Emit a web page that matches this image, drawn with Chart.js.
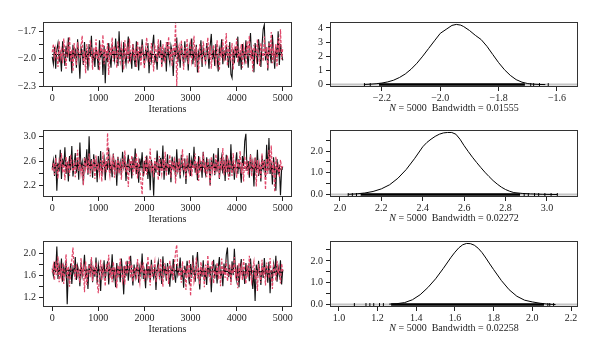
<!DOCTYPE html>
<html>
<head>
<meta charset="utf-8">
<script src="https://cdn.jsdelivr.net/npm/chart.js@4.4.0/dist/chart.umd.min.js"></script>
<style>
  body { margin: 0; background: #fff; }
  #wrap { position: relative; width: 600px; height: 352px; }
  canvas { position: absolute; }
</style>
</head>
<body>
<div id="wrap">
  <canvas id="trace1" width="300" height="117" style="left:0;top:0"></canvas>
  <canvas id="dens1" width="300" height="117" style="left:300px;top:0"></canvas>
  <canvas id="trace2" width="300" height="110" style="left:0;top:117px"></canvas>
  <canvas id="dens2" width="300" height="110" style="left:300px;top:117px"></canvas>
  <canvas id="trace3" width="300" height="110" style="left:0;top:227px"></canvas>
  <canvas id="dens3" width="300" height="110" style="left:300px;top:227px"></canvas>
</div>
<script>
// iterations axis
const iterTicks = [0, 1000, 2000, 3000, 4000, 5000];
const sampleN = 5000;
const bandwidths = ['0.01555', '0.02272', '0.02258'];

// parameter 1 chains (thinned, every 25 iterations)
const p1Chain1 = [
  -1.98,-2.06,-1.87,-2.11,-1.90,-1.83,-2.04,-1.95,-2.14,-1.81,
  -1.96,-2.08,-1.86,-1.99,-1.77,-2.03,-1.92,-2.16,-1.85,-2.00,
  -1.89,-2.10,-1.79,-1.97,-2.22,-1.88,-1.94,-2.07,-1.82,-2.01,
  -1.91,-2.13,-1.84,-1.98,-1.75,-2.05,-1.93,-2.09,-1.87,-1.96,
  -2.12,-1.80,-1.99,-1.89,-2.18,-1.86,-2.27,-1.92,-2.04,-1.83,
  -1.97,-2.10,-1.85,-1.94,-2.02,-1.78,-1.95,-2.08,-1.70,-2.00,
  -1.88,-2.15,-1.82,-1.97,-2.06,-1.90,-1.76,-2.03,-1.93,-2.11,
  -1.84,-1.99,-2.09,-1.81,-1.96,-2.13,-1.87,-2.01,-1.79,-1.94,
  -2.07,-1.90,-1.98,-1.83,-2.16,-1.92,-2.02,-1.86,-1.74,-2.05,
  -1.95,-2.12,-1.85,-1.99,-1.80,-2.08,-1.91,-2.03,-1.88,-2.14,
  -1.82,-1.97,-2.05,-1.86,-1.93,-2.19,-1.89,-1.98,-1.77,-2.04,
  -1.90,-2.10,-1.84,-1.96,-2.07,-1.81,-2.00,-1.92,-2.13,-1.87,
  -1.95,-1.78,-2.06,-1.91,-2.02,-1.85,-2.15,-1.93,-1.99,-1.80,
  -2.09,-1.88,-1.97,-2.04,-1.83,-1.94,-2.11,-1.86,-1.73,-2.01,
  -1.92,-2.08,-1.84,-1.98,-2.14,-1.89,-1.95,-1.79,-2.06,-1.91,
  -2.02,-1.85,-1.97,-2.10,-1.82,-2.17,-2.21,-1.90,-2.05,-1.87,
  -1.99,-1.76,-2.08,-1.93,-2.12,-1.84,-1.96,-2.03,-1.80,-1.94,
  -2.10,-1.86,-1.72,-2.00,-1.90,-2.15,-1.83,-1.97,-2.06,-1.79,
  -1.92,-2.09,-1.85,-1.68,-1.63,-2.02,-1.88,-2.13,-1.81,-1.96,
  -2.05,-1.74,-1.93,-2.11,-1.87,-1.99,-1.70,-2.07,-1.84,-1.95,
  -2.02];
const p1Chain2 = [
  -1.93,-1.84,-2.02,-1.89,-1.97,-2.09,-1.81,-1.99,-1.91,-2.05,
  -1.78,-1.95,-2.11,-1.86,-1.94,-1.76,-2.03,-1.90,-2.14,-1.83,
  -1.98,-2.07,-1.82,-1.93,-2.00,-1.87,-1.75,-2.06,-1.92,-2.16,
  -1.84,-1.96,-2.04,-1.80,-1.91,-2.12,-1.88,-1.99,-1.79,-2.01,
  -1.90,-2.13,-1.85,-1.95,-1.74,-2.06,-1.89,-2.00,-1.83,-2.18,
  -1.87,-1.97,-1.77,-2.03,-1.86,-1.92,-2.10,-1.81,-1.98,-2.04,
  -1.85,-1.93,-2.12,-1.80,-1.96,-1.88,-2.06,-1.78,-2.01,-1.94,
  -1.84,-2.02,-1.89,-2.09,-1.81,-1.97,-1.91,-2.08,-1.85,-1.99,
  -2.11,-1.88,-1.77,-2.00,-1.94,-2.07,-1.83,-1.95,-2.14,-1.86,
  -1.90,-2.04,-1.79,-1.98,-1.87,-2.10,-1.84,-1.96,-2.05,-1.82,
  -1.93,-1.76,-2.02,-1.89,-2.08,-1.85,-1.97,-1.60,-2.30,-1.92,
  -1.86,-2.01,-1.80,-1.95,-2.12,-1.88,-1.99,-1.78,-2.06,-1.91,
  -1.83,-2.03,-1.94,-1.75,-2.09,-1.87,-1.98,-2.15,-1.84,-1.96,
  -2.02,-1.81,-1.93,-2.07,-1.89,-1.77,-2.00,-1.86,-2.11,-1.92,
  -1.85,-1.97,-2.05,-1.80,-1.94,-2.13,-1.88,-1.99,-1.79,-2.03,
  -1.90,-1.72,-2.08,-1.86,-1.96,-2.01,-1.83,-2.12,-1.89,-1.95,
  -1.78,-2.04,-1.91,-1.99,-1.84,-2.10,-1.87,-1.94,-2.06,-1.81,
  -1.97,-1.75,-2.02,-1.88,-2.14,-1.85,-1.93,-2.00,-1.79,-1.96,
  -2.08,-1.83,-1.90,-2.03,-1.76,-1.98,-1.87,-2.11,-1.82,-1.95,
  -1.71,-2.05,-1.89,-1.99,-1.84,-2.09,-1.77,-1.93,-1.68,-2.01,
  -1.88];
const p1SmoothIter = [0, 5000];
const p1Smooth = [-1.955, -1.955];

// parameter 2 chains
const p2Chain1 = [
  2.48,2.61,2.36,2.70,2.12,2.57,2.43,2.78,2.31,2.64,
  2.50,2.82,2.39,2.59,2.27,2.68,2.45,2.84,2.35,2.55,
  2.73,2.41,2.62,2.30,2.90,2.47,2.58,2.22,2.66,2.52,
  2.79,2.38,3.00,2.44,2.63,2.33,2.71,2.49,2.57,2.26,
  2.68,2.42,2.76,2.36,2.54,2.65,2.29,2.60,2.46,2.81,
  2.40,2.56,2.34,2.72,2.48,2.61,2.20,2.67,2.44,2.58,
  2.37,2.75,2.51,2.63,2.28,2.55,2.70,2.42,2.59,2.32,
  2.66,2.47,2.80,2.39,2.57,2.25,2.64,2.50,2.74,2.35,
  2.60,2.44,2.69,2.31,2.56,2.13,2.62,2.48,2.04,2.58,
  2.41,2.77,2.53,2.36,2.65,2.46,2.85,2.30,2.59,2.43,
  2.71,2.38,2.55,2.26,2.67,2.49,2.61,2.34,2.79,2.45,
  2.57,2.32,2.70,2.52,2.40,2.64,2.23,2.58,2.47,2.73,
  2.36,2.62,2.49,2.83,2.41,2.56,2.29,2.68,2.44,2.60,
  2.33,2.75,2.50,2.39,2.66,2.46,2.57,2.21,2.63,2.48,
  2.72,2.37,2.59,2.43,2.81,2.31,2.54,2.67,2.40,2.62,
  2.28,2.70,2.45,2.58,2.35,2.87,2.42,2.61,2.30,2.56,
  2.74,2.39,2.63,2.47,2.25,2.68,2.52,2.92,3.04,2.44,
  2.60,2.33,2.71,2.46,2.57,2.19,2.65,2.41,2.78,2.36,
  2.55,2.27,2.69,2.48,2.62,2.34,2.86,2.43,2.97,2.39,
  2.58,2.22,2.66,2.45,2.12,2.63,2.38,2.54,2.05,2.47,
  2.50];
const p2Chain2 = [
  2.45,2.57,2.38,2.65,2.49,2.32,2.60,2.52,2.73,2.41,
  2.55,2.29,2.67,2.46,2.58,2.36,2.70,2.50,2.43,2.62,
  2.34,2.56,2.78,2.44,2.60,2.39,2.53,2.21,2.66,2.47,
  2.59,2.40,2.72,2.35,2.57,2.48,2.64,2.31,2.69,2.45,
  2.53,2.38,2.61,2.27,2.74,2.46,2.58,2.42,3.05,2.50,
  2.36,2.62,2.48,2.71,2.33,2.56,2.44,2.66,2.40,2.59,
  2.30,2.64,2.51,2.77,2.42,2.55,2.18,2.63,2.47,2.69,
  2.37,2.58,2.45,2.73,2.32,2.60,2.49,2.26,2.06,2.54,
  2.43,2.67,2.38,2.61,2.50,2.80,2.41,2.57,2.34,2.65,
  2.46,2.59,2.29,2.68,2.52,2.39,2.63,2.44,2.75,2.36,
  2.56,2.48,2.70,2.33,2.60,2.45,2.66,2.24,2.58,2.42,
  2.64,2.37,2.53,2.79,2.44,2.57,2.31,2.69,2.49,2.40,
  2.61,2.35,2.55,2.47,2.72,2.38,2.59,2.28,2.66,2.46,
  2.52,2.74,2.41,2.58,2.34,2.63,2.48,2.20,2.67,2.43,
  2.56,2.39,2.71,2.47,2.60,2.32,2.65,2.45,2.81,2.37,
  2.58,2.42,2.69,2.30,2.62,2.50,2.36,2.73,2.46,2.55,
  2.33,2.64,2.49,2.76,2.40,2.57,2.27,2.68,2.44,2.61,
  2.38,2.54,2.70,2.35,2.59,2.47,2.66,2.19,2.62,2.43,
  2.56,2.31,2.72,2.48,2.60,2.14,2.64,2.39,2.78,2.45,
  2.85,2.37,2.58,2.10,2.67,2.44,2.53,2.34,2.62,2.48,
  2.52];
const p2SmoothIter = [0, 1000, 2000, 3000, 4000, 5000];
const p2Smooth = [2.535, 2.53, 2.50, 2.50, 2.49, 2.47];

// parameter 3 chains
const p3Chain1 = [
  1.72,1.59,1.84,1.65,2.12,1.53,1.78,1.62,1.90,1.48,
  1.75,1.60,1.86,1.07,1.69,1.56,1.81,1.44,1.73,1.63,
  1.93,1.51,1.77,1.66,1.40,1.83,1.58,1.71,1.97,1.54,
  1.68,1.35,1.80,1.62,1.89,1.47,1.74,1.57,1.92,1.45,
  1.79,1.64,1.31,1.76,1.60,1.87,1.52,1.70,1.85,1.43,
  1.75,1.61,1.98,1.55,1.68,1.38,1.82,1.59,1.73,1.47,
  1.90,1.66,1.25,1.77,1.58,1.86,1.50,1.72,1.95,1.63,
  1.41,1.79,1.56,1.69,1.84,1.46,1.74,1.61,1.99,1.53,
  1.67,1.36,1.81,1.59,1.76,1.48,1.88,1.64,1.55,1.78,
  1.33,1.71,1.85,1.57,1.68,1.44,1.94,1.62,1.75,1.50,
  1.82,1.66,1.39,1.73,1.58,1.89,1.63,1.46,1.80,1.60,
  1.70,1.92,1.52,1.67,1.37,1.77,1.59,1.86,1.64,1.43,
  1.80,1.55,1.96,1.69,1.48,1.78,2.02,1.61,1.34,1.74,
  1.57,1.87,1.50,1.68,1.42,1.83,1.62,1.76,1.29,1.71,
  1.88,1.54,1.79,1.45,1.73,1.93,1.58,1.66,1.40,1.81,
  1.63,1.97,2.10,1.56,1.74,1.47,1.85,1.60,2.08,1.69,
  1.52,1.78,1.38,1.72,1.89,1.57,1.66,1.44,1.82,1.61,
  1.75,1.49,1.90,1.63,1.35,1.70,1.13,1.79,1.58,1.86,
  1.65,1.42,1.77,1.55,1.91,1.61,1.73,1.46,1.84,1.27,
  1.69,1.53,1.80,1.64,1.95,1.48,1.74,1.59,1.87,1.43,
  1.70];
const p3Chain2 = [
  1.65,1.78,1.51,1.86,1.60,1.94,1.47,1.73,1.56,1.82,
  1.44,1.70,1.98,1.55,1.76,1.39,1.64,1.88,2.10,1.71,
  1.52,1.80,1.59,1.68,1.46,1.91,1.62,1.74,1.29,1.85,
  1.42,1.67,1.79,1.56,1.93,1.49,1.72,1.60,1.83,1.45,
  1.27,1.58,1.88,1.51,1.75,1.63,1.40,1.81,1.66,1.97,
  1.54,1.73,1.47,1.84,1.61,1.69,1.36,1.78,1.57,1.90,
  1.64,1.50,1.76,1.43,1.86,1.62,1.71,1.95,1.55,1.80,
  1.48,1.67,1.74,1.52,1.89,1.60,1.45,1.77,1.65,1.83,
  1.49,1.70,1.58,1.94,1.63,1.41,1.79,1.56,1.72,1.85,
  1.47,1.66,1.75,1.53,1.90,1.61,1.39,1.82,1.68,1.57,
  1.76,1.44,1.87,1.62,1.73,1.51,1.80,2.02,2.15,1.69,
  1.58,1.74,1.46,1.85,1.63,1.71,1.33,1.78,1.55,1.88,
  1.22,1.67,1.81,1.48,1.60,1.92,1.54,1.75,1.43,1.84,
  1.62,1.70,1.38,1.79,1.57,1.96,1.64,1.50,1.73,1.86,
  1.45,1.68,1.59,1.83,1.52,1.77,1.40,1.90,1.61,1.72,
  1.55,1.87,1.49,1.66,1.80,1.42,1.74,1.63,1.93,1.58,
  1.70,1.36,1.82,1.60,1.76,1.51,1.89,1.65,1.44,1.78,
  1.57,1.95,1.62,1.48,1.73,1.85,1.53,1.69,1.31,1.80,
  1.64,1.46,1.88,1.59,1.75,1.41,1.83,1.66,1.54,1.91,
  1.60,1.35,1.77,1.68,1.50,1.86,1.63,1.72,1.45,1.81,
  1.67];
const p3SmoothIter = [0, 2000, 4000, 5000];
const p3Smooth = [1.69, 1.685, 1.665, 1.655];

// density estimates
const d1X = [-2.26,-2.24,-2.22,-2.20,-2.18,-2.16,-2.14,-2.12,-2.10,-2.08,-2.06,-2.04,-2.02,-2.00,-1.98,-1.96,-1.945,
  -1.93,-1.92,-1.90,-1.88,-1.86,-1.84,-1.82,-1.80,-1.78,-1.76,-1.74,-1.72,-1.70,-1.68,-1.66,-1.64];
const d1Y = [0.01,0.03,0.06,0.11,0.19,0.31,0.50,0.75,1.09,1.51,2.01,2.55,3.09,3.62,3.90,4.18,4.25,
  4.20,4.10,3.82,3.48,3.18,2.70,2.12,1.55,1.05,0.65,0.35,0.17,0.07,0.03,0.01,0.0];
const d2X = [2.04,2.08,2.12,2.16,2.20,2.24,2.28,2.32,2.36,2.40,2.42,2.44,2.46,2.48,2.50,2.52,2.54,2.56,2.58,
  2.60,2.62,2.64,2.66,2.68,2.70,2.72,2.74,2.76,2.78,2.80,2.82,2.84,2.88,2.92,2.98,3.05];
const d2Y = [0.01,0.03,0.07,0.14,0.26,0.45,0.75,1.15,1.65,2.20,2.40,2.55,2.68,2.78,2.84,2.86,2.86,2.78,2.55,
  2.25,1.98,1.72,1.48,1.25,1.03,0.83,0.64,0.48,0.34,0.23,0.15,0.09,0.05,0.03,0.01,0.0];
const d3X = [1.26,1.30,1.34,1.38,1.42,1.46,1.50,1.54,1.58,1.60,1.62,1.64,1.66,1.68,1.70,1.72,1.74,1.76,1.78,
  1.80,1.84,1.88,1.92,1.96,2.00,2.04,2.08,2.12];
const d3Y = [0.02,0.04,0.09,0.22,0.45,0.78,1.18,1.66,2.17,2.40,2.60,2.74,2.80,2.79,2.72,2.58,2.38,2.13,1.86,
  1.60,1.10,0.68,0.38,0.20,0.12,0.06,0.02,0.0];

// rug: dense band plus sparse tail samples
const rug1Band = [-2.21, -1.71];
const rug1Tail = [-2.26, -2.24, -1.69, -1.68, -1.66, -1.63];
const rug2Band = [2.10, 2.87];
const rug2Tail = [2.04, 2.06, 2.08, 2.89, 2.91, 2.94, 2.96, 2.99, 3.02, 3.05];
const rug3Band = [1.27, 2.06];
const rug3Tail = [1.08, 1.14, 1.16, 1.18, 1.21, 1.23, 2.08, 2.09, 2.11];

// axis ticks
const t1Ticks = [-2.3, -2.15, -2.0, -1.85, -1.7];
const t1Labels = [-2.3, -2.0, -1.7];
const t2Ticks = [2.2, 2.4, 2.6, 2.8, 3.0];
const t2Labels = [2.2, 2.6, 3.0];
const t3Ticks = [1.2, 1.4, 1.6, 1.8, 2.0];
const t3Labels = [1.2, 1.6, 2.0];
const d1XTicks = [-2.2, -2.0, -1.8, -1.6];
const d2XTicks = [2.0, 2.2, 2.4, 2.6, 2.8, 3.0];
const d3XTicks = [1.0, 1.2, 1.4, 1.6, 1.8, 2.0, 2.2];
const d1YTicks = [0, 1, 2, 3, 4];
const d1YLabels = [0, 1, 2, 3, 4];
const d23YTicks = [0, 0.5, 1.0, 1.5, 2.0, 2.5];
const d23YLabels = [0, 1.0, 2.0];

Chart.defaults.font.family = '"Liberation Serif", "DejaVu Serif", serif';
Chart.defaults.font.size = 10;
Chart.defaults.color = '#222';

const MINUS = '\u2212';
const fmt = (v, d) => (v < 0 ? MINUS : '') + Math.abs(v).toFixed(d);
const has = (arr, v) => arr.some(a => Math.abs(a - v) < 1e-9);

const boxPlugin = {
  id: 'box',
  afterDatasetsDraw(chart) {
    const { ctx, chartArea: a } = chart;
    ctx.save();
    ctx.strokeStyle = '#333';
    ctx.lineWidth = 1;
    ctx.strokeRect(a.left + 0.5, a.top + 0.5, a.width - 1, a.height - 1);
    ctx.restore();
  }
};

// "N = 5000  Bandwidth = ..." with an italic N
const bwPlugin = {
  id: 'bwLabel',
  afterDraw(chart, args, opts) {
    if (!opts || !opts.text) return;
    const { ctx, chartArea: a } = chart;
    const fam = Chart.defaults.font.family;
    ctx.save();
    ctx.fillStyle = '#222';
    ctx.textBaseline = 'middle';
    ctx.textAlign = 'left';
    ctx.font = 'italic 10px ' + fam;
    const nW = ctx.measureText('N').width;
    ctx.font = '10px ' + fam;
    const rW = ctx.measureText(opts.text).width;
    const x = (a.left + a.right) / 2 - (nW + rW) / 2;
    const y = a.bottom + 21;
    ctx.font = 'italic 10px ' + fam;
    ctx.fillText('N', x, y);
    ctx.font = '10px ' + fam;
    ctx.fillText(opts.text, x + nW, y);
    ctx.restore();
  }
};

function gridOpts() {
  return { drawOnChartArea: false, drawTicks: true, tickLength: 4, color: '#222', tickColor: '#222' };
}

function xScale(min, max, ticks, dec, title) {
  return {
    type: 'linear', min, max,
    afterBuildTicks: s => { s.ticks = ticks.map(v => ({ value: v })); },
    afterFit: s => { s.height = 30; },
    grid: gridOpts(),
    border: { display: false },
    ticks: { autoSkip: false, maxRotation: 0, padding: 1, callback: v => fmt(v, dec) },
    title: { display: !!title, text: title || '', padding: { top: 0, bottom: 2 } }
  };
}

function yScale(min, max, ticks, labels, dec, width) {
  return {
    min, max,
    afterBuildTicks: s => { s.ticks = ticks.map(v => ({ value: v })); },
    afterFit: s => { s.width = width; },
    grid: gridOpts(),
    border: { display: false },
    ticks: { autoSkip: false, padding: 3, callback: v => has(labels, v) ? fmt(v, dec) : '' }
  };
}

// first dataset is painted last (on top)
function traceChart(id, chain1, chain2, smoothIter, smooth, yMin, yMax, yTicks, yLabels, padTop) {
  const step = sampleN / (chain1.length - 1);
  new Chart(document.getElementById(id), {
    type: 'line',
    data: {
      datasets: [
        { data: chain2.map((v, i) => ({ x: i * step, y: v })), borderColor: '#E0486A', borderWidth: 1.2, borderDash: [3, 1.5] },
        { data: smoothIter.map((x, i) => ({ x, y: smooth[i] })), borderColor: '#000', borderWidth: 1.2 },
        { data: chain1.map((v, i) => ({ x: i * step, y: v })), borderColor: '#111', borderWidth: 1.1 }
      ]
    },
    options: {
      responsive: false, animation: false, devicePixelRatio: 1,
      layout: { padding: { left: 0, right: 8, top: padTop, bottom: 0 } },
      elements: { point: { radius: 0 }, line: { tension: 0 } },
      plugins: { legend: { display: false }, tooltip: { enabled: false } },
      scales: {
        x: xScale(-200, 5200, iterTicks, 0, 'Iterations'),
        y: yScale(yMin, yMax, yTicks, yLabels, 1, 43)
      }
    },
    plugins: [boxPlugin]
  });
}

function densChart(id, xs, ys, band, tail, xMin, xMax, xTicks, yMax, yTicks, yLabels, yDec, bw, padTop) {
  new Chart(document.getElementById(id), {
    type: 'line',
    data: {
      datasets: [
        { data: xs.map((x, i) => ({ x, y: ys[i] })), borderColor: '#000', borderWidth: 1 },
        { data: tail.map(x => ({ x, y: 0 })), showLine: false, pointRadius: 1.5, pointStyle: 'line',
          pointRotation: 90, pointBorderColor: '#000', pointBorderWidth: 1 },
        { data: band.map(x => ({ x, y: 0 })), borderColor: '#000', borderWidth: 2.5 },
        { data: [{ x: xMin, y: 0 }, { x: xMax, y: 0 }], borderColor: '#c4c4c4', borderWidth: 2 }
      ]
    },
    options: {
      responsive: false, animation: false, devicePixelRatio: 1,
      layout: { padding: { left: 0, right: 22, top: padTop, bottom: 0 } },
      elements: { point: { radius: 0 }, line: { tension: 0 } },
      plugins: {
        legend: { display: false }, tooltip: { enabled: false },
        bwLabel: { text: ' = ' + sampleN + '  Bandwidth = ' + bw }
      },
      scales: {
        x: xScale(xMin, xMax, xTicks, 1, ''),
        y: yScale(-yMax * 0.04, yMax * 1.04, yTicks, yLabels, yDec, 30)
      }
    },
    plugins: [boxPlugin, bwPlugin]
  });
}

traceChart('trace1', p1Chain1, p1Chain2, p1SmoothIter, p1Smooth, -2.31, -1.60, t1Ticks, t1Labels, 22);
traceChart('trace2', p2Chain1, p2Chain2, p2SmoothIter, p2Smooth, 2.02, 3.10, t2Ticks, t2Labels, 13);
traceChart('trace3', p3Chain1, p3Chain2, p3SmoothIter, p3Smooth, 1.02, 2.22, t3Ticks, t3Labels, 14);

densChart('dens1', d1X, d1Y, rug1Band, rug1Tail, -2.378, -1.528, d1XTicks, 4.25, d1YTicks, d1YLabels, 0, bandwidths[0], 22);
densChart('dens2', d2X, d2Y, rug2Band, rug2Tail, 1.952, 3.15, d2XTicks, 2.86, d23YTicks, d23YLabels, 1, bandwidths[1], 13);
densChart('dens3', d3X, d3Y, rug3Band, rug3Tail, 0.954, 2.236, d3XTicks, 2.80, d23YTicks, d23YLabels, 1, bandwidths[2], 14);
</script>
</body>
</html>
